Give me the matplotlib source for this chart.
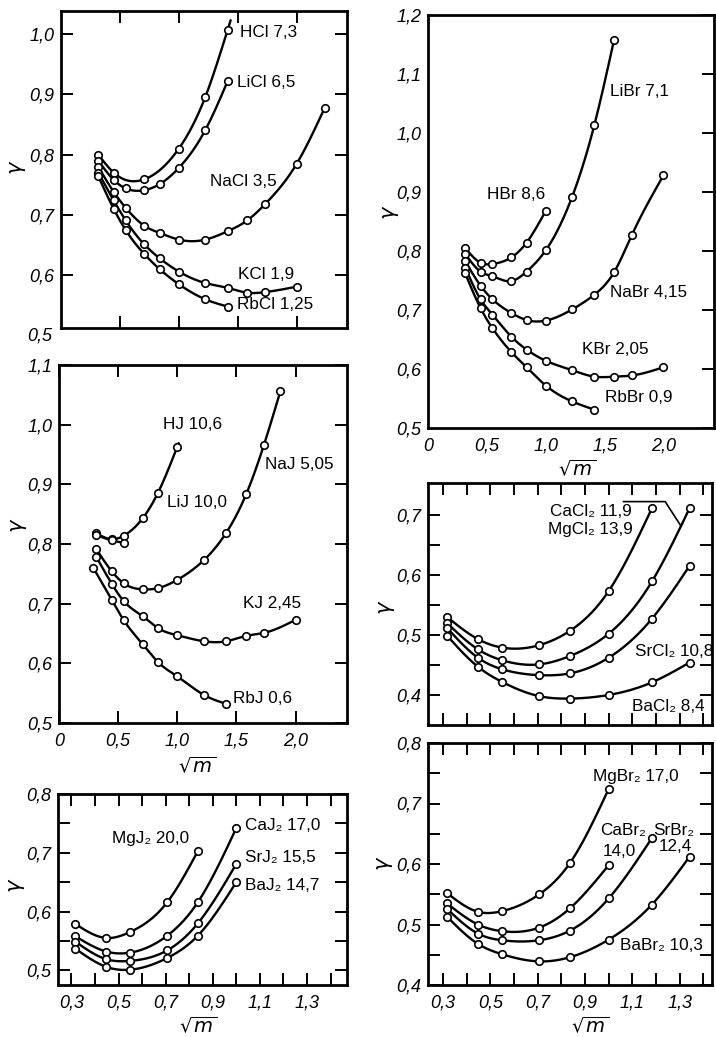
import numpy as np
import matplotlib
matplotlib.use("Agg")
import matplotlib.pyplot as plt
from matplotlib.ticker import FixedLocator, FixedFormatter, NullFormatter
import matplotlib.transforms as mtransforms

plt.rcParams['font.family'] = ['Liberation Sans Narrow', 'Liberation Sans', 'DejaVu Sans']
plt.rcParams['mathtext.fontset'] = 'dejavusans'

# ---------------- data (x = sqrt(m), y = gamma) ----------------
# Panel 1: chlorides of univalent cations
x_HCl = [0.316, 0.447, 0.707, 1.0, 1.225, 1.414]
y_HCl = [0.800, 0.770, 0.759, 0.810, 0.896, 1.007]
x_LiCl = [0.316, 0.447, 0.548, 0.707, 0.837, 1.0, 1.225, 1.414]
y_LiCl = [0.790, 0.758, 0.744, 0.741, 0.751, 0.778, 0.841, 0.922]
x_NaCl = [0.316, 0.447, 0.548, 0.707, 0.837, 1.0, 1.225, 1.414, 1.581, 1.732, 2.0, 2.236]
y_NaCl = [0.780, 0.738, 0.712, 0.682, 0.670, 0.659, 0.659, 0.673, 0.691, 0.718, 0.785, 0.877]
x_KCl = [0.316, 0.447, 0.548, 0.707, 0.837, 1.0, 1.225, 1.414, 1.581, 1.732, 2.0]
y_KCl = [0.770, 0.724, 0.691, 0.651, 0.628, 0.606, 0.587, 0.579, 0.571, 0.572, 0.581]
x_RbCl = [0.316, 0.447, 0.548, 0.707, 0.837, 1.0, 1.225, 1.414]
y_RbCl = [0.764, 0.710, 0.675, 0.635, 0.610, 0.585, 0.560, 0.548]

# Panel 2: iodides of univalent cations
x_HJ = [0.316, 0.447, 0.548, 0.707, 0.837, 1.0]
y_HJ = [0.818, 0.808, 0.814, 0.843, 0.886, 0.963]
x_LiJ = [0.316, 0.447, 0.548]
y_LiJ = [0.815, 0.806, 0.802]
x_NaJ = [0.316, 0.447, 0.548, 0.707, 0.837, 1.0, 1.225, 1.414, 1.581, 1.732, 1.871]
y_NaJ = [0.791, 0.754, 0.734, 0.724, 0.726, 0.740, 0.773, 0.819, 0.883, 0.966, 1.056]
x_KJ = [0.316, 0.447, 0.548, 0.707, 0.837, 1.0, 1.225, 1.414, 1.581, 1.732, 2.0]
y_KJ = [0.778, 0.733, 0.704, 0.679, 0.659, 0.647, 0.637, 0.637, 0.646, 0.651, 0.673]
x_RbJ = [0.29, 0.447, 0.548, 0.707, 0.837, 1.0, 1.225, 1.414]
y_RbJ = [0.760, 0.706, 0.672, 0.632, 0.602, 0.578, 0.547, 0.532]

# Panel 3: iodides of bivalent cations
x_MgJ2 = [0.316, 0.447, 0.548, 0.707, 0.837]
y_MgJ2 = [0.579, 0.555, 0.565, 0.616, 0.703]
x_CaJ2 = [0.316, 0.447, 0.548, 0.707, 0.837, 1.0]
y_CaJ2 = [0.558, 0.532, 0.530, 0.559, 0.616, 0.742]
x_SrJ2 = [0.316, 0.447, 0.548, 0.707, 0.837, 1.0]
y_SrJ2 = [0.549, 0.519, 0.516, 0.534, 0.580, 0.681]
x_BaJ2 = [0.316, 0.447, 0.548, 0.707, 0.837, 1.0]
y_BaJ2 = [0.537, 0.506, 0.501, 0.521, 0.559, 0.650]

# Panel 4: bromides of univalent cations
x_HBr = [0.316, 0.447, 0.548, 0.707, 0.837, 1.0]
y_HBr = [0.805, 0.780, 0.778, 0.789, 0.814, 0.868]
x_LiBr = [0.316, 0.447, 0.548, 0.707, 0.837, 1.0, 1.225, 1.414, 1.581]
y_LiBr = [0.795, 0.765, 0.757, 0.749, 0.765, 0.801, 0.892, 1.014, 1.158]
x_NaBr = [0.316, 0.447, 0.548, 0.707, 0.837, 1.0, 1.225, 1.414, 1.581, 1.732, 2.0]
y_NaBr = [0.783, 0.741, 0.718, 0.695, 0.683, 0.682, 0.701, 0.726, 0.764, 0.827, 0.928]
x_KBr = [0.316, 0.447, 0.548, 0.707, 0.837, 1.0, 1.225, 1.414, 1.581, 1.732, 2.0]
y_KBr = [0.772, 0.718, 0.692, 0.655, 0.633, 0.614, 0.598, 0.587, 0.587, 0.589, 0.603]
x_RbBr = [0.316, 0.447, 0.548, 0.707, 0.837, 1.0, 1.225, 1.414]
y_RbBr = [0.762, 0.703, 0.669, 0.629, 0.603, 0.572, 0.545, 0.531]

# Panel 5: chlorides of bivalent cations
x_MgCl2 = [0.316, 0.447, 0.548, 0.707, 0.837, 1.0, 1.183]
y_MgCl2 = [0.530, 0.493, 0.479, 0.483, 0.507, 0.573, 0.711]
x_CaCl2 = [0.316, 0.447, 0.548, 0.707, 0.837, 1.0, 1.183, 1.342]
y_CaCl2 = [0.520, 0.476, 0.458, 0.451, 0.465, 0.502, 0.589, 0.711]
x_SrCl2 = [0.316, 0.447, 0.548, 0.707, 0.837, 1.0, 1.183, 1.342]
y_SrCl2 = [0.512, 0.462, 0.443, 0.433, 0.436, 0.462, 0.527, 0.615]
x_BaCl2 = [0.316, 0.447, 0.548, 0.707, 0.837, 1.0, 1.183, 1.342]
y_BaCl2 = [0.499, 0.447, 0.422, 0.398, 0.394, 0.400, 0.421, 0.454]

# Panel 6: bromides of bivalent cations
x_MgBr2 = [0.316, 0.447, 0.548, 0.707, 0.837, 1.0]
y_MgBr2 = [0.552, 0.521, 0.522, 0.550, 0.602, 0.724]
x_CaBr2 = [0.316, 0.447, 0.548, 0.707, 0.837, 1.0]
y_CaBr2 = [0.535, 0.500, 0.489, 0.495, 0.527, 0.598]
x_SrBr2 = [0.316, 0.447, 0.548, 0.707, 0.837, 1.0, 1.183]
y_SrBr2 = [0.526, 0.485, 0.474, 0.474, 0.490, 0.543, 0.643]
x_BaBr2 = [0.316, 0.447, 0.548, 0.707, 0.837, 1.0, 1.183, 1.342]
y_BaBr2 = [0.513, 0.468, 0.451, 0.439, 0.446, 0.475, 0.533, 0.612]

# tick values / labels
xt_wide = [0.0, 0.5, 1.0, 1.5, 2.0]
xl_wide = ['0', '0,5', '1,0', '1,5', '2,0']
xt_narrow = [0.3, 0.5, 0.7, 0.9, 1.1, 1.3]
xl_narrow = ['0,3', '0,5', '0,7', '0,9', '1,1', '1,3']
xt_narrow_minor = [0.4, 0.6, 0.8, 1.0, 1.2, 1.4]
yt_p1 = [0.6, 0.7, 0.8, 0.9, 1.0]
yl_p1 = ['0,6', '0,7', '0,8', '0,9', '1,0']
yt_p2 = [0.5, 0.6, 0.7, 0.8, 0.9, 1.0, 1.1]
yl_p2 = ['0,5', '0,6', '0,7', '0,8', '0,9', '1,0', '1,1']
yt_p3 = [0.5, 0.6, 0.7, 0.8]
yl_p3 = ['0,5', '0,6', '0,7', '0,8']
yt_p4 = [0.5, 0.6, 0.7, 0.8, 0.9, 1.0, 1.1, 1.2]
yl_p4 = ['0,5', '0,6', '0,7', '0,8', '0,9', '1,0', '1,1', '1,2']
yt_p5 = [0.4, 0.5, 0.6, 0.7]
yl_p5 = ['0,4', '0,5', '0,6', '0,7']
yt_p6 = [0.4, 0.5, 0.6, 0.7, 0.8]
yl_p6 = ['0,4', '0,5', '0,6', '0,7', '0,8']

# ---------------- helpers ----------------
W, H = 716, 1037
fig = plt.figure(figsize=(W / 100, H / 100), dpi=100)

FAM = ['Liberation Sans Narrow', 'Liberation Sans', 'DejaVu Sans']
TICKFONT = dict(family=FAM, style='italic', size=13)
LABFONT = dict(family=FAM, size=12.3)


def add_ax(l, r, t, b):
    return fig.add_axes([l / W, 1 - b / H, (r - l) / W, (b - t) / H])


def spline(x, y, ext=0.0, n=300):
    x = np.asarray(x, float)
    y = np.asarray(y, float)
    k = len(x)
    h = np.diff(x)
    A = np.zeros((k, k))
    rhs = np.zeros(k)
    A[0, 0] = A[-1, -1] = 1.0
    for i in range(1, k - 1):
        A[i, i - 1] = h[i - 1]
        A[i, i] = 2 * (h[i - 1] + h[i])
        A[i, i + 1] = h[i]
        rhs[i] = 3 * ((y[i + 1] - y[i]) / h[i] - (y[i] - y[i - 1]) / h[i - 1])
    c = np.linalg.solve(A, rhs)
    b = (y[1:] - y[:-1]) / h - h * (2 * c[:-1] + c[1:]) / 3
    d = (c[1:] - c[:-1]) / (3 * h)
    xs = np.linspace(x[0], x[-1] + ext, n)
    idx = np.clip(np.searchsorted(x, xs) - 1, 0, k - 2)
    dx = xs - x[idx]
    ys = y[idx] + b[idx] * dx + c[idx] * dx ** 2 + d[idx] * dx ** 3
    return xs, ys


def curve(ax, x, y, ext=0.0):
    xs, ys = spline(x, y, ext)
    ax.plot(xs, ys, color='black', lw=1.7, zorder=2, solid_capstyle='round')
    ax.plot(x, y, ls='none', marker='o', ms=5.4, mfc='white', mec='black', mew=1.2, zorder=3)


def style(ax, xlim, ylim, xmaj, xlab, ymaj, ylab, xminor=None, yminor=None,
          show_x=True, xticks=True):
    ax.set_xlim(*xlim)
    ax.set_ylim(*ylim)
    for s in ax.spines.values():
        s.set_linewidth(2.0)
    ax.xaxis.set_major_locator(FixedLocator(xmaj))
    if show_x:
        ax.xaxis.set_major_formatter(FixedFormatter(xlab))
    else:
        ax.xaxis.set_major_formatter(NullFormatter())
    ax.xaxis.set_minor_locator(FixedLocator(xminor if xminor is not None else []))
    ax.yaxis.set_major_locator(FixedLocator(ymaj))
    ax.yaxis.set_major_formatter(FixedFormatter(ylab))
    ax.yaxis.set_minor_locator(FixedLocator(yminor if yminor is not None else []))
    ax.tick_params(which='both', direction='in', length=8.5, width=1.4,
                   top=xticks, bottom=xticks, left=True, right=True)
    ax.tick_params(axis='y', pad=5)
    ax.tick_params(axis='x', pad=7)
    for lb in ax.get_xticklabels() + ax.get_yticklabels():
        lb.set_fontfamily(TICKFONT['family'])
        lb.set_fontstyle('italic')
        lb.set_fontsize(TICKFONT['size'])


def gamma(x_px, y_px):
    fig.text(x_px / W, 1 - y_px / H, 'γ', rotation=90, ha='center', va='center',
             fontsize=15, family=['DejaVu Sans'], style='italic')


def sqrtm(x_px, y_px):
    fig.text(x_px / W, 1 - y_px / H, r'$\sqrt{m}$', ha='center', va='center',
             fontsize=14, fontweight='bold')


def lab(ax, x, y, s):
    ax.text(x, y, s, ha='left', va='center', **LABFONT)


# ---------------- panel 1 ----------------
ax1 = add_ax(61, 347, 11, 328)
curve(ax1, x_HCl, y_HCl, ext=0.025)
for xx, yy in [(x_LiCl, y_LiCl), (x_NaCl, y_NaCl), (x_KCl, y_KCl), (x_RbCl, y_RbCl)]:
    curve(ax1, xx, yy)
style(ax1, (0, 2.426), (0.5125, 1.038), xt_wide[1:], xl_wide[1:], yt_p1, yl_p1, show_x=False)
ax1.text(-0.03, 0.5, '0,5', transform=mtransforms.blended_transform_factory(ax1.transAxes, ax1.transData),
         ha='right', va='center', **TICKFONT)
lab(ax1, 1.52, 1.002, 'HCl 7,3')
lab(ax1, 1.49, 0.919, 'LiCl 6,5')
lab(ax1, 1.265, 0.756, 'NaCl 3,5')
lab(ax1, 1.50, 0.601, 'KCl 1,9')
lab(ax1, 1.49, 0.551, 'RbCl 1,25')
gamma(14, 167)

# ---------------- panel 2 ----------------
ax2 = add_ax(59, 347, 365, 723)
curve(ax2, x_HJ, y_HJ, ext=0.012)
for xx, yy in [(x_LiJ, y_LiJ), (x_NaJ, y_NaJ), (x_KJ, y_KJ), (x_RbJ, y_RbJ)]:
    curve(ax2, xx, yy)
style(ax2, (0, 2.434), (0.5, 1.1), xt_wide, xl_wide, yt_p2, yl_p2)
lab(ax2, 0.88, 1.0, 'HJ 10,6')
lab(ax2, 0.91, 0.869, 'LiJ 10,0')
lab(ax2, 1.74, 0.933, 'NaJ 5,05')
lab(ax2, 1.553, 0.701, 'KJ 2,45')
lab(ax2, 1.47, 0.541, 'RbJ 0,6')
gamma(15, 525)
sqrtm(197, 766)

# ---------------- panel 3 ----------------
ax3 = add_ax(58, 347, 794, 985)
for xx, yy in [(x_MgJ2, y_MgJ2), (x_CaJ2, y_CaJ2), (x_SrJ2, y_SrJ2), (x_BaJ2, y_BaJ2)]:
    curve(ax3, xx, yy)
style(ax3, (0.243, 1.47), (0.475, 0.8), xt_narrow, xl_narrow, yt_p3, yl_p3,
      xminor=xt_narrow_minor, yminor=[0.55, 0.65, 0.75])
lab(ax3, 0.471, 0.725, 'MgJ₂ 20,0')
lab(ax3, 1.037, 0.746, 'CaJ₂ 17,0')
lab(ax3, 1.037, 0.692, 'SrJ₂ 15,5')
lab(ax3, 1.037, 0.644, 'BaJ₂ 14,7')
gamma(13, 885)
sqrtm(198, 1026)

# ---------------- panel 4 ----------------
ax4 = add_ax(428, 714, 15, 428)
for xx, yy in [(x_HBr, y_HBr), (x_LiBr, y_LiBr), (x_NaBr, y_NaBr), (x_KBr, y_KBr), (x_RbBr, y_RbBr)]:
    curve(ax4, xx, yy)
style(ax4, (0, 2.43), (0.5, 1.2), xt_wide, xl_wide, yt_p4, yl_p4, xticks=False)
ax4.tick_params(axis='y', which='both', left=False, labelleft=True)
lab(ax4, 1.546, 1.070, 'LiBr 7,1')
lab(ax4, 0.50, 0.895, 'HBr 8,6')
lab(ax4, 1.546, 0.729, 'NaBr 4,15')
lab(ax4, 1.308, 0.633, 'KBr 2,05')
lab(ax4, 1.504, 0.551, 'RbBr 0,9')
gamma(387, 212)
sqrtm(577, 469)

# ---------------- panel 5 ----------------
ax5 = add_ax(428, 712, 483, 725)
for xx, yy in [(x_MgCl2, y_MgCl2), (x_CaCl2, y_CaCl2), (x_SrCl2, y_SrCl2), (x_BaCl2, y_BaCl2)]:
    curve(ax5, xx, yy)
style(ax5, (0.236, 1.437), (0.35, 0.753), xt_narrow, xl_narrow, yt_p5, yl_p5,
      xminor=xt_narrow_minor, yminor=[0.45, 0.55, 0.65], show_x=False)
lab(ax5, 0.752, 0.7055, 'CaCl₂ 11,9')
lab(ax5, 0.744, 0.675, 'MgCl₂ 13,9')
ax5.plot([1.063, 1.239, 1.303], [0.722, 0.722, 0.683], color='black', lw=1.2)
lab(ax5, 1.112, 0.472, 'SrCl₂ 10,8')
lab(ax5, 1.10, 0.380, 'BaCl₂ 8,4')
gamma(383, 607)

# ---------------- panel 6 ----------------
ax6 = add_ax(428, 712, 743, 985)
for xx, yy in [(x_MgBr2, y_MgBr2), (x_CaBr2, y_CaBr2), (x_SrBr2, y_SrBr2), (x_BaBr2, y_BaBr2)]:
    curve(ax6, xx, yy)
style(ax6, (0.236, 1.437), (0.4, 0.8), xt_narrow, xl_narrow, yt_p6, yl_p6,
      xminor=xt_narrow_minor, yminor=[0.45, 0.55, 0.65, 0.75])
lab(ax6, 0.934, 0.745, 'MgBr₂ 17,0')
lab(ax6, 0.964, 0.656, 'CaBr₂')
lab(ax6, 0.977, 0.621, '14,0')
lab(ax6, 1.189, 0.656, 'SrBr₂')
lab(ax6, 1.21, 0.629, '12,4')
lab(ax6, 1.049, 0.466, 'BaBr₂ 10,3')
gamma(381, 863)
sqrtm(590, 1026)

fig.savefig('out.png', dpi=100)
